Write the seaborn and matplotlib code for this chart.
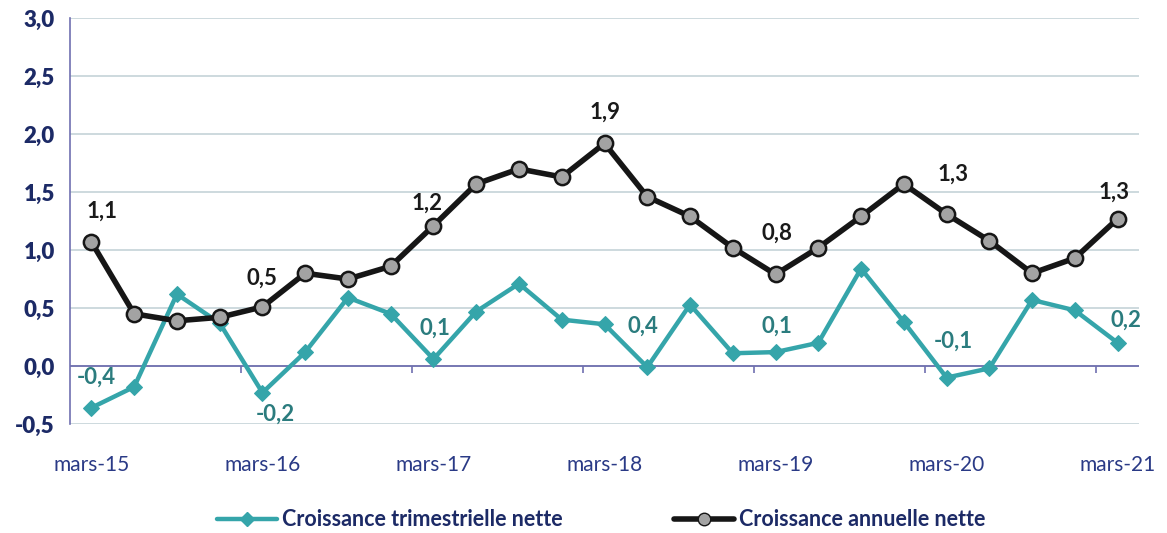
import numpy as np
import pandas as pd
import seaborn as sns
import matplotlib.pyplot as plt
from matplotlib.lines import Line2D

# quarterly points, mars-15 .. mars-21
quarters = ["mars-15", "juin-15", "sept-15", "déc-15",
            "mars-16", "juin-16", "sept-16", "déc-16",
            "mars-17", "juin-17", "sept-17", "déc-17",
            "mars-18", "juin-18", "sept-18", "déc-18",
            "mars-19", "juin-19", "sept-19", "déc-19",
            "mars-20", "juin-20", "sept-20", "déc-20",
            "mars-21"]

trimestrielle = [-0.36, -0.18, 0.62, 0.37, -0.23, 0.12, 0.59, 0.45,
                 0.06, 0.47, 0.71, 0.40, 0.36, -0.01, 0.53, 0.11,
                 0.12, 0.20, 0.84, 0.38, -0.10, -0.02, 0.57, 0.48, 0.20]

annuelle = [1.07, 0.45, 0.39, 0.42, 0.51, 0.80, 0.75, 0.86,
            1.21, 1.57, 1.70, 1.63, 1.92, 1.46, 1.29, 1.02,
            0.79, 1.02, 1.29, 1.57, 1.31, 1.08, 0.80, 0.93, 1.27]

series_names = ["Croissance trimestrielle nette", "Croissance annuelle nette"]

# which points carry a data label
label_idx = [0, 4, 8, 12, 16, 20, 24]

df = pd.DataFrame({"idx": np.arange(len(quarters)),
                   "quarter": quarters,
                   "trim": trimestrielle,
                   "ann": annuelle})

sns.set_theme(style="white")
plt.rcParams["font.family"] = ["Lato", "DejaVu Sans"]

teal = "#35A5AA"
teal_txt = "#2B7C7E"
navy = "#1C2A66"
axis_col = "#7070B0"
grid_col = "#C9D7DB"

fig = plt.figure(figsize=(11.67, 5.33), dpi=100)
ax = fig.add_axes([0.060, 0.2045, 0.916, 0.7615])

sns.lineplot(data=df, x="idx", y="trim", ax=ax, color=teal, lw=3.2,
             marker="D", markersize=8, markeredgecolor=teal, markerfacecolor=teal)
sns.lineplot(data=df, x="idx", y="ann", ax=ax, color="#161616", lw=4,
             marker="o", markersize=11, markeredgecolor="#161616",
             markeredgewidth=1.8, markerfacecolor="#A3A3A3")

ax.set_xlim(-0.5, len(quarters) - 0.5)
ax.set_ylim(-0.5, 3.0)
yt = np.arange(-0.5, 3.01, 0.5)
ax.set_yticks(yt)
ax.set_yticklabels([f"{v:.1f}".replace(".", ",") for v in yt],
                   fontweight="heavy", color=navy, fontsize=16)
ax.yaxis.grid(True, color=grid_col, lw=1.3)
ax.set_axisbelow(True)

xt = list(range(0, len(quarters), 4))
ax.set_xticks(xt)
ax.set_xticklabels([quarters[i] for i in xt], color="#2A3A86", fontsize=15)
ax.tick_params(axis="x", length=0, pad=22)
ax.tick_params(axis="y", length=5, color=axis_col, width=1.2, pad=6)
ax.set_xlabel("")
ax.set_ylabel("")

for s in ["top", "right", "bottom"]:
    ax.spines[s].set_visible(False)
ax.spines["left"].set_color(axis_col)
ax.spines["left"].set_linewidth(1.2)
ax.axhline(0, color=axis_col, lw=1.3, zorder=1.5)
# category tick marks on the zero line
ax.vlines(np.arange(3, len(quarters) - 1, 4) + 0.5, -0.06, 0,
          color=axis_col, lw=1.2)

# data labels (offsets in pixels)
ann_off = {0: (11, 31), 4: (0, 29), 8: (-6, 22), 12: (1, 31),
           16: (1, 41), 20: (6, 40), 24: (-4, 27)}
trim_off = {0: (5, 31), 4: (13, -22), 8: (1, 31), 12: (38, -2),
            16: (1, 26), 20: (7, 36), 24: (8, 23)}
for i in label_idx:
    dx, dy = ann_off[i]
    ax.annotate(f"{annuelle[i]:.1f}".replace(".", ","), (i, annuelle[i]),
                xytext=(dx * 0.72, dy * 0.72), textcoords="offset points",
                ha="center", va="center", fontsize=16, fontweight="bold",
                color="#1A1A1A")
    dx, dy = trim_off[i]
    ax.annotate(f"{trimestrielle[i]:.1f}".replace(".", ","), (i, trimestrielle[i]),
                xytext=(dx * 0.72, dy * 0.72), textcoords="offset points",
                ha="center", va="center", fontsize=16, fontweight="bold",
                color=teal_txt)

handles = [Line2D([], [], color=teal, lw=3.2, marker="D", markersize=7,
                  markerfacecolor=teal, markeredgecolor=teal),
           Line2D([], [], color="#161616", lw=4, marker="o", markersize=9,
                  markerfacecolor="#A3A3A3", markeredgecolor="#161616")]
leg = fig.legend(handles, series_names, loc="center", bbox_to_anchor=(0.515, 0.025),
                 ncol=2, frameon=False, handlelength=2.8, handletextpad=0.2,
                 columnspacing=5.2, prop={"weight": "bold", "size": 15.5})
for t in leg.get_texts():
    t.set_color(navy)

fig.savefig("out.png", dpi=100)
